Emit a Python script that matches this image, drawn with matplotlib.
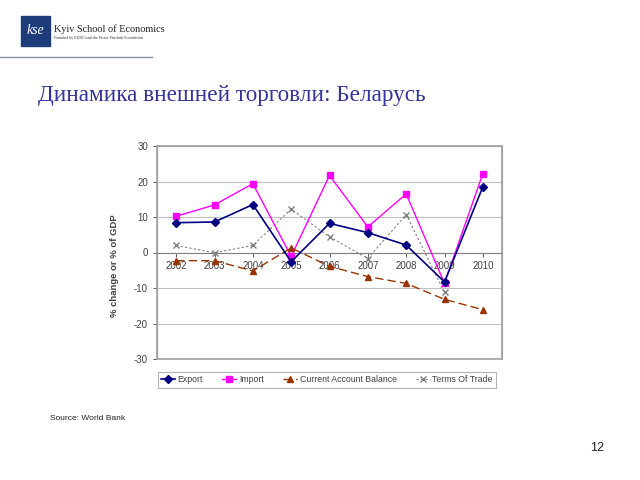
import numpy as np
import matplotlib
matplotlib.use("Agg")
import matplotlib.pyplot as plt
from matplotlib.patches import Rectangle
from matplotlib.lines import Line2D

years = ["2002", "2003", "2004", "2005", "2006", "2007", "2008", "2009", "2010"]
export = [8.4, 8.6, 13.5, -2.6, 8.2, 5.6, 2.1, -8.3, 18.5]
imports = [10.2, 13.4, 19.4, -1.1, 21.7, 7.2, 16.5, -8.7, 22.2]
cab = [-2.3, -2.3, -5.2, 1.3, -3.9, -6.8, -8.7, -13.2, -16.1]
tot = [2.0, -0.1, 2.0, 12.2, 4.4, -1.7, 10.7, -11.2, np.nan]
y_ticks = [-30, -20, -10, 0, 10, 20, 30]

plt.rcParams['font.family'] = ['Liberation Sans', 'DejaVu Sans']
plt.rcParams['axes.unicode_minus'] = False

fig = plt.figure(figsize=(6.4, 4.8), dpi=100)
fig.patch.set_facecolor("white")

# header: logo block, school name, rule
fig.patches.append(Rectangle((21 / 640, 1 - 46 / 480), 29 / 640, 30 / 480,
                             transform=fig.transFigure, color="#1f3c7a", zorder=1))
fig.text(35.5 / 640, 1 - 31 / 480, "kse", color="white", fontsize=10, style="italic",
         family="Liberation Serif", ha="center", va="center")
fig.text(54 / 640, 1 - 29 / 480, "Kyiv School of Economics", fontsize=7.4,
         family="Liberation Serif", color="#222222", va="center")
fig.text(54 / 640, 1 - 37.5 / 480, "Founded by EERC and the Victor Pinchuk Foundation", fontsize=3,
         family="Liberation Serif", color="#333333", va="center")
fig.lines.append(Line2D([0, 152 / 640], [1 - 57 / 480, 1 - 57 / 480], transform=fig.transFigure,
                        color="#8a8fa8", lw=1))

fig.text(38 / 640, 1 - 96 / 480, "Динамика внешней торговли: Беларусь", fontsize=16.7,
         family="Liberation Serif", color="#333399", va="center")

ax = fig.add_axes([157 / 640, 1 - 359 / 480, 345 / 640, 213 / 480])
x = np.arange(len(years))

ax.plot(x, export, color="#000080", lw=1.2, marker="D", markersize=4, label="Export", zorder=4)
ax.plot(x, imports, color="#ff00ff", lw=1.0, marker="s", markersize=4.5, label="Import", zorder=3)
ax.plot(x, cab, color="#993300", lw=1.0, ls=(0, (6, 3)), marker="^", markersize=4.5,
        label="Current Account Balance", zorder=3)
ax.plot(x, tot, color="#808080", lw=0.8, ls=(0, (2, 2)), marker="x", markersize=4,
        label="Terms Of Trade", zorder=2)

ax.set_xlim(-0.5, len(years) - 0.5)
ax.set_ylim(-30, 30)
ax.set_yticks(y_ticks)
ax.set_xticks(x)
ax.set_xticklabels(years)
ax.yaxis.grid(True, color="#c0c0c0", lw=0.8)
ax.set_axisbelow(True)
ax.tick_params(axis="both", labelsize=7, colors="#404040", length=3, width=0.6)
ax.tick_params(axis="x", pad=3)

for s in ["top", "right", "left"]:
    ax.spines[s].set_color("#a0a0a0")
ax.spines["bottom"].set_position(("data", 0))
ax.spines["bottom"].set_color("#808080")
ax.add_patch(Rectangle((0, 0), 1, 1, transform=ax.transAxes, fill=False,
                       edgecolor="#a0a0a0", lw=1.2, clip_on=False))

ax.set_ylabel("% change or % of GDP", fontsize=6.8, fontweight="bold", color="#404040")
ax.yaxis.set_label_coords(-0.11, 0.44)

leg = fig.legend(loc="center", bbox_to_anchor=(327 / 640, 1 - 380 / 480), ncol=4, fontsize=6.3,
                 frameon=True, fancybox=False, edgecolor="#a0a0a0", handlelength=1.6,
                 handletextpad=0.3, columnspacing=2.2, borderpad=0.4)
leg.get_frame().set_linewidth(0.8)
for t in leg.get_texts():
    t.set_color("#404040")

fig.text(50 / 640, 1 - 418 / 480, "Source: World Bank", fontsize=6, color="#222222", va="center")
fig.text(597 / 640, 1 - 448 / 480, "12", fontsize=9, color="#222222", ha="center", va="center")

fig.savefig("out.png", dpi=100)
